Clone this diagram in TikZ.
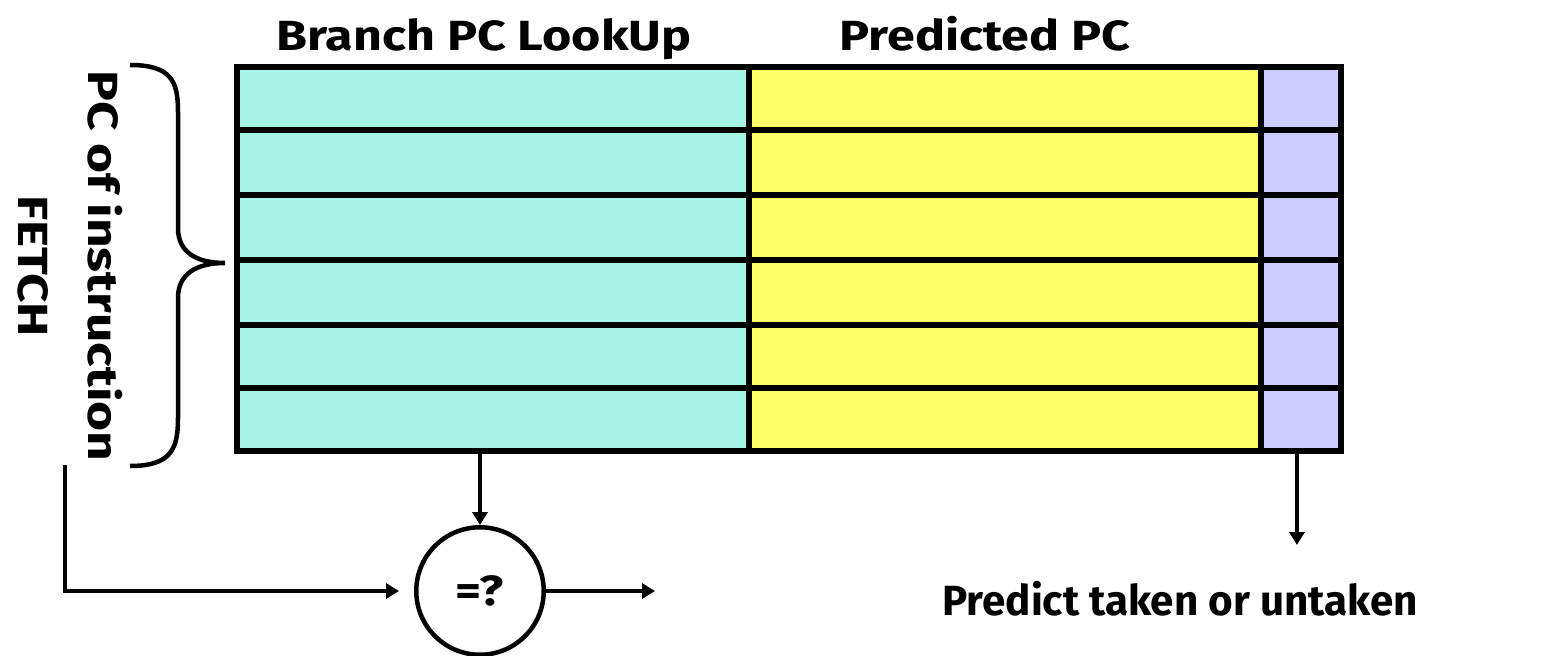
\documentclass[tikz,border=0pt]{standalone}
\usepackage{fontspec}
\setmainfont{Fira Sans}[BoldFont={Fira Sans Bold}]
\newfontfamily\widebold{Fira Sans Bold}[FakeStretch=1.19]
\newfontfamily\widerbold{Fira Sans Bold}[FakeStretch=1.22]
\usetikzlibrary{arrows.meta}
\definecolor{cyancol}{HTML}{A6F5E4}
\definecolor{yellowcol}{HTML}{FFFF66}
\definecolor{lavcol}{HTML}{CCCCFF}
\tikzset{
  lbl/.style={font=\widebold\fontsize{24}{38}\selectfont, inner sep=0pt},
  rlbl/.style={font=\widerbold\fontsize{24}{40}\selectfont, inner sep=0pt},
  plbl/.style={font=\bfseries\fontsize{24}{38}\selectfont, inner sep=0pt},
  grid/.style={line width=0.11cm},
  conn/.style={line width=0.09cm, -{Triangle[length=0.26cm,width=0.3cm]}},
  plain/.style={line width=0.09cm},
}
\begin{document}
\begin{tikzpicture}[x=0.02cm,y=-0.02cm]
\useasboundingbox (0,0) rectangle (1560,656);
% table columns
\fill[cyancol] (237,67) rectangle (749,451);
\fill[yellowcol] (749,67) rectangle (1261,451);
\fill[lavcol] (1261,67) rectangle (1341,451);
\foreach \y in {130,195,260,325,388} \draw[grid] (237,\y) -- (1341,\y);
\draw[grid] (749,67) -- (749,451);
\draw[grid] (1261,67) -- (1261,451);
\draw[grid] (237,67) rectangle (1341,451);
% labels
\node[lbl, anchor=base] (lbranch) at (484,50) {Branch PC LookUp};
\node[lbl, anchor=base] (lpred) at (985,50) {Predicted PC};
\node[rlbl, rotate=-90, align=center] (lfetch) at (70,266) {PC of instruction\\FETCH};
\node[plbl, anchor=base] (lpredict) at (1180,615) {Predict taken or untaken};
% brace
\draw[plain] (130,65) .. controls (172,65) and (178,82) .. (178,112) -- (178,228)
  .. controls (178,252) and (196,263) .. (225,263)
  .. controls (196,263) and (178,274) .. (178,298) -- (178,418)
  .. controls (178,448) and (172,466) .. (130,466);
% comparator
\node[draw, circle, line width=0.09cm, minimum size=2.55cm, inner sep=0pt, font=\widebold\fontsize{24}{28}\selectfont] (cmp) at (480,591) {=?};
\coordinate (bpcout) at (480,451);
\coordinate (fetchout) at (65,465);
\coordinate (cmpout) at (655,591);
\coordinate (predout) at (1297,451);
\coordinate (predend) at (1297,545);
\draw[conn] (bpcout) -- (cmp.north);
\draw[conn, shorten >=0.3cm] (fetchout) |- (cmp.west);
\draw[conn] (cmp.east) -- (cmpout);
\draw[conn] (predout) -- (predend);
\end{tikzpicture}
\end{document}
